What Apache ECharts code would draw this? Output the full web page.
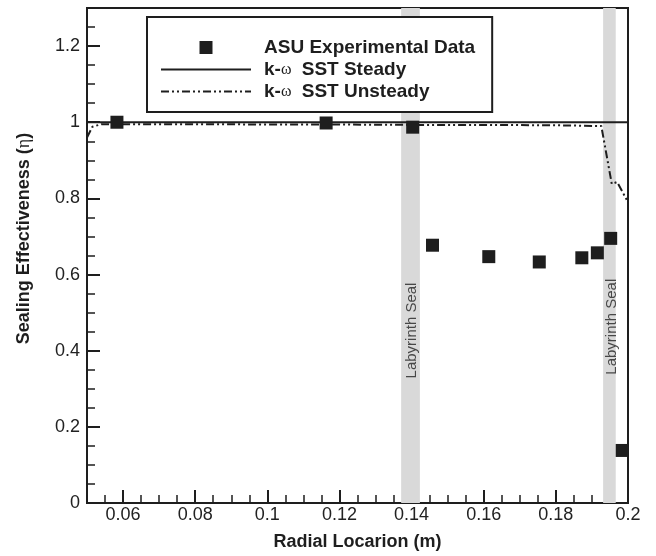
<!DOCTYPE html>
<html>
<head>
<meta charset="utf-8">
<script src="https://cdn.jsdelivr.net/npm/echarts@6/dist/echarts.min.js"></script>
<style>
html,body{margin:0;padding:0;background:#fff;}
#chart{width:656px;height:556px;}
</style>
</head>
<body>
<div id="chart"></div>
<script>
// ---- data ----
var expX = [0.0583, 0.1163, 0.1403, 0.1458, 0.1614, 0.1754, 0.1872, 0.1915, 0.1952, 0.1984];
var expY = [1.000, 0.998, 0.987, 0.677, 0.647, 0.633, 0.644, 0.657, 0.695, 0.138];
var steadyX = [0.05, 0.2];
var steadyY = [1.0, 1.0];
var unsteadyX = [0.05, 0.0515, 0.054, 0.08, 0.1, 0.12, 0.14, 0.16, 0.18, 0.1926, 0.1955, 0.197, 0.2];
var unsteadyY = [0.960, 0.988, 0.995, 0.995, 0.994, 0.994, 0.993, 0.993, 0.992, 0.990, 0.838, 0.843, 0.790];
var sealStart = [0.1371, 0.1931];
var sealEnd = [0.1423, 0.1966];
var sealLabelX = [0.1401, 0.1954];
var sealLabelY = [0.453, 0.463];
var sealLabel = 'Labyrinth Seal';
var xMajorTicks = [0.06, 0.08, 0.1, 0.12, 0.14, 0.16, 0.18, 0.2];
var seriesNames = ['ASU Experimental Data', 'k-ω SST Steady', 'k-ω SST Unsteady'];
var xName = 'Radial Locarion (m)';
var yName = 'Sealing Effectiveness (η)';

function zip(a, b) { return a.map(function (v, i) { return [v, b[i]]; }); }

var FONT = '"Liberation Sans", Arial, Helvetica, sans-serif';
var SERIF = '"Liberation Serif", "DejaVu Serif", serif';
var INK = '#1e1e1e';

var chart = echarts.init(document.getElementById('chart'), null, {renderer: 'canvas'});
var option = {
  animation: false,
  backgroundColor: '#ffffff',
  grid: {
    left: 87, top: 8, right: 28, bottom: 53,
    show: true, borderColor: INK, borderWidth: 2, backgroundColor: 'transparent'
  },
  legend: {
    orient: 'vertical',
    left: 147, top: 17,
    padding: [21, 17, 11, 13],
    backgroundColor: '#ffffff',
    borderColor: INK, borderWidth: 2, borderRadius: 0,
    itemWidth: 90, itemHeight: 13, itemGap: 3,
    selectedMode: false,
    data: [
      {name: seriesNames[0], icon: 'path://M0,0H10V10H0Z', itemStyle: {color: INK, opacity: 1}},
      {name: seriesNames[1], itemStyle: {opacity: 0}},
      {name: seriesNames[2], itemStyle: {opacity: 0}}
    ],
    formatter: function (name) {
      if (name.indexOf('ω') < 0) return '{b|' + name + '}';
      var parts = name.split('ω');
      return '{b|' + parts[0] + '}{w|ω}{b|' + parts[1] + '}';
    },
    textStyle: {
      fontFamily: FONT, fontWeight: 'bold', fontSize: 19, color: INK, lineHeight: 18,
      padding: [0, 0, 0, 8],
      rich: {
        b: {fontFamily: FONT, fontWeight: 'bold', fontSize: 19, color: INK, lineHeight: 18},
        w: {fontFamily: SERIF, fontWeight: 'normal', fontSize: 16, color: INK, lineHeight: 18, padding: [0, 5, 0, 0]}
      }
    }
  },
  xAxis: [
    {
      type: 'value', min: 0.05, max: 0.2, interval: 0.005, position: 'bottom',
      axisLine: {show: true, lineStyle: {color: INK, width: 2}},
      axisTick: {show: true, inside: true, length: 8, lineStyle: {color: INK, width: 1.5}},
      axisLabel: {show: false},
      splitLine: {show: false}
    },
    {
      type: 'value', min: 0.05, max: 0.2, position: 'bottom',
      axisLine: {show: true, lineStyle: {color: INK, width: 2}},
      axisTick: {show: true, inside: true, length: 13, customValues: xMajorTicks, lineStyle: {color: INK, width: 2}},
      axisLabel: {show: true, customValues: xMajorTicks, fontFamily: FONT, fontSize: 18, color: '#222', margin: 3},
      splitLine: {show: false},
      name: xName, nameLocation: 'middle', nameGap: 30,
      nameTextStyle: {fontFamily: FONT, fontWeight: 'bold', fontSize: 18, color: INK}
    }
  ],
  yAxis: [
    {
      type: 'value', min: 0, max: 1.3, interval: 0.05, position: 'left',
      axisLine: {show: true, lineStyle: {color: INK, width: 2}},
      axisTick: {show: true, inside: true, length: 8, lineStyle: {color: INK, width: 1.5}},
      axisLabel: {show: false},
      splitLine: {show: false}
    },
    {
      type: 'value', min: 0, max: 1.3, interval: 0.2, position: 'left',
      axisLine: {show: true, lineStyle: {color: INK, width: 2}},
      axisTick: {show: true, inside: true, length: 13, lineStyle: {color: INK, width: 2}},
      axisLabel: {show: true, showMaxLabel: false, fontFamily: FONT, fontSize: 18, color: '#222', margin: 7},
      splitLine: {show: false},
      name: '{b|' + yName.split('η')[0] + '}{e|η}{b|' + yName.split('η')[1] + '}',
      nameLocation: 'middle', nameGap: 54,
      nameTextStyle: {
        fontFamily: FONT, fontWeight: 'bold', fontSize: 18, color: INK, padding: [0, 0, 0, 34],
        rich: {
          b: {fontFamily: FONT, fontWeight: 'bold', fontSize: 18, color: INK},
          e: {fontFamily: SERIF, fontWeight: 'normal', fontSize: 18, color: INK}
        }
      }
    }
  ],
  series: [
    {
      name: 'seals', type: 'scatter', xAxisIndex: 1, yAxisIndex: 1, z: 1,
      symbolSize: 0, silent: true,
      data: zip(sealLabelX, sealLabelY),
      label: {
        show: true, position: 'inside', rotate: 90, formatter: sealLabel,
        fontFamily: FONT, fontSize: 15, color: '#222'
      },
      markArea: {
        silent: true,
        itemStyle: {color: '#d9d9d9'},
        data: sealStart.map(function (s, i) { return [{xAxis: s}, {xAxis: sealEnd[i]}]; })
      }
    },
    {
      name: seriesNames[1], type: 'line', xAxisIndex: 1, yAxisIndex: 1, z: 3,
      symbol: 'none', data: zip(steadyX, steadyY),
      lineStyle: {color: INK, width: 2, type: 'solid'}, itemStyle: {color: INK}
    },
    {
      name: seriesNames[2], type: 'line', xAxisIndex: 1, yAxisIndex: 1, z: 3,
      symbol: 'none', data: zip(unsteadyX, unsteadyY),
      lineStyle: {color: INK, width: 2, type: [8, 3, 2, 3, 2, 3]}, itemStyle: {color: INK}
    },
    {
      name: seriesNames[0], type: 'scatter', xAxisIndex: 1, yAxisIndex: 1, z: 4,
      symbol: 'rect', symbolSize: 13, data: zip(expX, expY),
      itemStyle: {color: INK, opacity: 1}
    }
  ]
};
chart.setOption(option);
</script>
</body>
</html>
